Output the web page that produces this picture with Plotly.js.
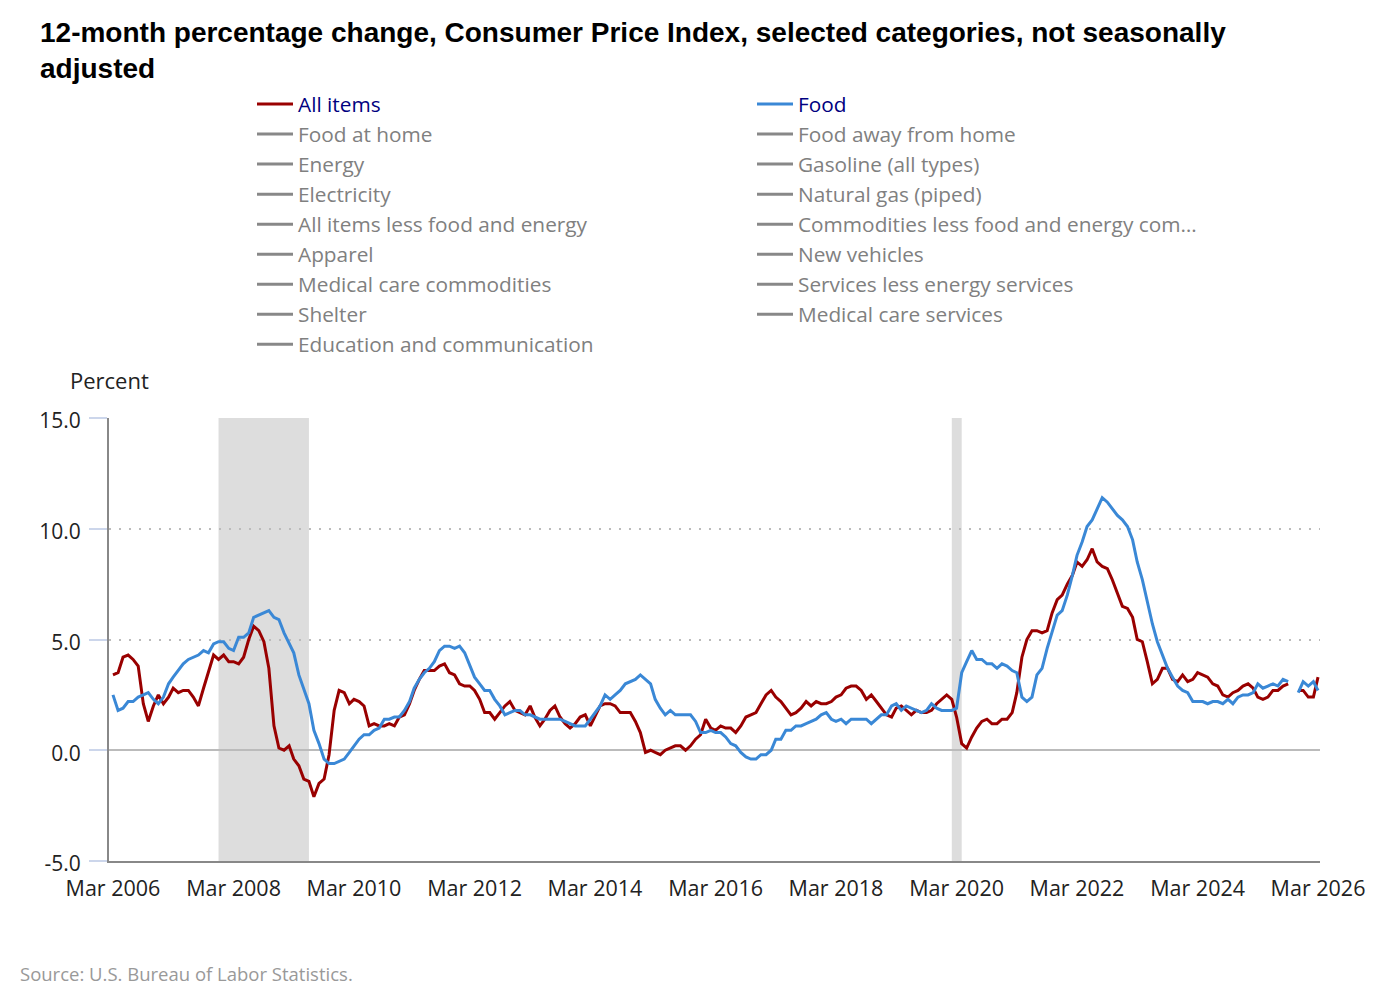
<!DOCTYPE html>
<html>
<head>
<meta charset="utf-8">
<script src="https://cdn.plot.ly/plotly-3.0.1.min.js"></script>
<style>
  html, body { margin: 0; padding: 0; background: #fff; }
  #chart { width: 1400px; height: 999px; }
</style>
</head>
<body>
<div id="chart"></div>
<script>
// Monthly observations, Mar 2006 through Mar 2026 (Oct 2025 not published)
const startYear = 2006;
const startMonth = 3; // March

const allItems = [
  /*2006*/ 3.4, 3.5, 4.2, 4.3, 4.1, 3.8, 2.1, 1.3, 2.0, 2.5,
  /*2007*/ 2.1, 2.4, 2.8, 2.6, 2.7, 2.7, 2.4, 2.0, 2.8, 3.5, 4.3, 4.1,
  /*2008*/ 4.3, 4.0, 4.0, 3.9, 4.2, 5.0, 5.6, 5.4, 4.9, 3.7, 1.1, 0.1,
  /*2009*/ 0.0, 0.2, -0.4, -0.7, -1.3, -1.4, -2.1, -1.5, -1.3, -0.2, 1.8, 2.7,
  /*2010*/ 2.6, 2.1, 2.3, 2.2, 2.0, 1.1, 1.2, 1.1, 1.1, 1.2, 1.1, 1.5,
  /*2011*/ 1.6, 2.1, 2.7, 3.2, 3.6, 3.6, 3.6, 3.8, 3.9, 3.5, 3.4, 3.0,
  /*2012*/ 2.9, 2.9, 2.7, 2.3, 1.7, 1.7, 1.4, 1.7, 2.0, 2.2, 1.8, 1.7,
  /*2013*/ 1.6, 2.0, 1.5, 1.1, 1.4, 1.8, 2.0, 1.5, 1.2, 1.0, 1.2, 1.5,
  /*2014*/ 1.6, 1.1, 1.5, 2.0, 2.1, 2.1, 2.0, 1.7, 1.7, 1.7, 1.3, 0.8,
  /*2015*/ -0.1, 0.0, -0.1, -0.2, 0.0, 0.1, 0.2, 0.2, 0.0, 0.2, 0.5, 0.7,
  /*2016*/ 1.4, 1.0, 0.9, 1.1, 1.0, 1.0, 0.8, 1.1, 1.5, 1.6, 1.7, 2.1,
  /*2017*/ 2.5, 2.7, 2.4, 2.2, 1.9, 1.6, 1.7, 1.9, 2.2, 2.0, 2.2, 2.1,
  /*2018*/ 2.1, 2.2, 2.4, 2.5, 2.8, 2.9, 2.9, 2.7, 2.3, 2.5, 2.2, 1.9,
  /*2019*/ 1.6, 1.5, 1.9, 2.0, 1.8, 1.6, 1.8, 1.7, 1.7, 1.8, 2.1, 2.3,
  /*2020*/ 2.5, 2.3, 1.5, 0.3, 0.1, 0.6, 1.0, 1.3, 1.4, 1.2, 1.2, 1.4,
  /*2021*/ 1.4, 1.7, 2.6, 4.2, 5.0, 5.4, 5.4, 5.3, 5.4, 6.2, 6.8, 7.0,
  /*2022*/ 7.5, 7.9, 8.5, 8.3, 8.6, 9.1, 8.5, 8.3, 8.2, 7.7, 7.1, 6.5,
  /*2023*/ 6.4, 6.0, 5.0, 4.9, 4.0, 3.0, 3.2, 3.7, 3.7, 3.2, 3.1, 3.4,
  /*2024*/ 3.1, 3.2, 3.5, 3.4, 3.3, 3.0, 2.9, 2.5, 2.4, 2.6, 2.7, 2.9,
  /*2025*/ 3.0, 2.8, 2.4, 2.3, 2.4, 2.7, 2.7, 2.9, 3.0, null, 2.7, 2.7,
  /*2026*/ 2.4, 2.4, 3.3
];

const food = [
  /*2006*/ 2.5, 1.8, 1.9, 2.2, 2.2, 2.4, 2.5, 2.6, 2.3, 2.1,
  /*2007*/ 2.4, 3.0, 3.3, 3.6, 3.9, 4.1, 4.2, 4.3, 4.5, 4.4, 4.8, 4.9,
  /*2008*/ 4.9, 4.6, 4.5, 5.1, 5.1, 5.3, 6.0, 6.1, 6.2, 6.3, 6.0, 5.9,
  /*2009*/ 5.3, 4.8, 4.4, 3.4, 2.8, 2.1, 0.9, 0.3, -0.4, -0.6, -0.6, -0.5,
  /*2010*/ -0.4, -0.1, 0.2, 0.5, 0.7, 0.7, 0.9, 1.0, 1.4, 1.4, 1.5, 1.5,
  /*2011*/ 1.8, 2.2, 2.8, 3.2, 3.5, 3.7, 4.0, 4.5, 4.7, 4.7, 4.6, 4.7,
  /*2012*/ 4.4, 3.8, 3.3, 3.0, 2.7, 2.7, 2.3, 2.0, 1.6, 1.7, 1.8, 1.8,
  /*2013*/ 1.6, 1.6, 1.5, 1.4, 1.4, 1.4, 1.4, 1.4, 1.3, 1.2, 1.1, 1.1,
  /*2014*/ 1.1, 1.4, 1.7, 2.0, 2.5, 2.3, 2.5, 2.7, 3.0, 3.1, 3.2, 3.4,
  /*2015*/ 3.2, 3.0, 2.3, 1.9, 1.6, 1.8, 1.6, 1.6, 1.6, 1.6, 1.3, 0.8,
  /*2016*/ 0.8, 0.9, 0.8, 0.8, 0.6, 0.3, 0.2, -0.1, -0.3, -0.4, -0.4, -0.2,
  /*2017*/ -0.2, 0.0, 0.5, 0.5, 0.9, 0.9, 1.1, 1.1, 1.2, 1.3, 1.4, 1.6,
  /*2018*/ 1.7, 1.4, 1.3, 1.4, 1.2, 1.4, 1.4, 1.4, 1.4, 1.2, 1.4, 1.6,
  /*2019*/ 1.6, 2.0, 2.1, 1.8, 2.0, 1.9, 1.8, 1.7, 1.8, 2.1, 1.9, 1.8,
  /*2020*/ 1.8, 1.8, 1.9, 3.5, 4.0, 4.5, 4.1, 4.1, 3.9, 3.9, 3.7, 3.9,
  /*2021*/ 3.8, 3.6, 3.5, 2.4, 2.2, 2.4, 3.4, 3.7, 4.6, 5.3, 6.1, 6.3,
  /*2022*/ 7.0, 7.9, 8.8, 9.4, 10.1, 10.4, 10.9, 11.4, 11.2, 10.9, 10.6, 10.4,
  /*2023*/ 10.1, 9.5, 8.5, 7.7, 6.7, 5.7, 4.9, 4.3, 3.7, 3.3, 2.9, 2.7,
  /*2024*/ 2.6, 2.2, 2.2, 2.2, 2.1, 2.2, 2.2, 2.1, 2.3, 2.1, 2.4, 2.5,
  /*2025*/ 2.5, 2.6, 3.0, 2.8, 2.9, 3.0, 2.9, 3.2, 3.1, null, 2.6, 3.1,
  /*2026*/ 2.9, 3.1, 2.7
];

// Other categories listed in the legend (not plotted), row-wise order of the two columns
const otherCategories = [
  "Food at home", "Food away from home",
  "Energy", "Gasoline (all types)",
  "Electricity", "Natural gas (piped)",
  "All items less food and energy", "Commodities less food and energy com\u2026",
  "Apparel", "New vehicles",
  "Medical care commodities", "Services less energy services",
  "Shelter", "Medical care services",
  "Education and communication"
];

// Recession periods
const recessions = [
  ["2007-12-01", "2009-06-01"],
  ["2020-02-01", "2020-04-01"]
];

const yTickVals = [-5, 0, 5, 10, 15];
const yTickText = ["-5.0", "0.0", "5.0", "10.0", "15.0"];
const tickLabelsStart = "2006-03-01";

function buildDates(n) {
  const out = [];
  for (let i = 0; i < n; i++) {
    const t = (startMonth - 1) + i;
    const y = startYear + Math.floor(t / 12);
    const m = (t % 12) + 1;
    out.push(y + "-" + String(m).padStart(2, "0") + "-01");
  }
  return out;
}
const dates = buildDates(allItems.length);

const traces = [
  { x: dates, y: allItems, name: "All items", type: "scatter", mode: "lines",
    line: { color: "#990000", width: 3 }, connectgaps: false },
  { x: dates, y: food, name: "Food", type: "scatter", mode: "lines",
    line: { color: "#3a88d6", width: 3 }, connectgaps: false }
];
otherCategories.forEach(function (name) {
  // series not selected: a single empty point keeps the legend entry
  traces.push({ x: [dates[0]], y: [null], type: "scatter", mode: "lines",
    name: '<span style="color:#808080">' + name + '</span>',
    line: { color: "#888888", width: 3 }, hoverinfo: "skip" });
});

const shapes = recessions.map(function (r) {
  return { type: "rect", xref: "x", yref: "paper", x0: r[0], x1: r[1], y0: 0, y1: 1,
    fillcolor: "#dddddd", line: { width: 0 }, layer: "below" };
});

const layout = {
  width: 1400, height: 999,
  margin: { l: 109, r: 80, t: 418, b: 138 },
  paper_bgcolor: "#ffffff", plot_bgcolor: "#ffffff",
  font: { family: "Open Sans, Noto Sans, sans-serif", color: "#222222" },
  title: {
    text: "12-month percentage change, Consumer Price Index, selected categories, not seasonally<br>adjusted",
    font: { family: "Liberation Sans, Arial, sans-serif", size: 28, color: "#000000", weight: "bold" },
    xref: "container", x: 40 / 1400, xanchor: "left",
    yref: "container", y: 1 - 42 / 999, yanchor: "top"
  },
  showlegend: true,
  legend: {
    orientation: "h", x: (252 - 109) / 1211, xanchor: "left",
    y: 1 + (418 - 84) / 443, yanchor: "top",
    itemwidth: 36,
    entrywidth: 449, entrywidthmode: "pixels",
    font: { size: 20.8, color: "#000080", family: "Open Sans, Noto Sans, sans-serif" },
    bgcolor: "rgba(0,0,0,0)", traceorder: "normal"
  },
  xaxis: {
    type: "date",
    range: ["2006-02-05", "2026-03-13"],
    tick0: tickLabelsStart, dtick: "M24", tickformat: "%b %Y",
    ticks: "", showgrid: false, zeroline: false,
    showline: true, linecolor: "#888888", linewidth: 2,
    tickfont: { size: 21.5, color: "#222222" },
    ticklabelstandoff: 7
  },
  yaxis: {
    range: [-5, 15], tickmode: "array", tickvals: yTickVals, ticktext: yTickText,
    showgrid: true, gridcolor: "#bbbbbb", gridwidth: 2, griddash: "2px,8px",
    zeroline: true, zerolinecolor: "#bbbbbb", zerolinewidth: 2,
    showline: true, linecolor: "#888888", linewidth: 2,
    ticks: "outside", ticklen: 18, tickcolor: "#ccd6eb", tickwidth: 2,
    tickfont: { size: 21, color: "#222222" },
    ticklabelstandoff: 4, ticklabelshift: 3
  },
  shapes: shapes,
  annotations: [
    { text: "Percent", xref: "paper", yref: "paper",
      x: (68 - 109) / 1211, xanchor: "left", y: 1 + (418 - 380) / 443, yanchor: "middle",
      showarrow: false, font: { size: 22, color: "#222222" } },
    { text: "Source: U.S. Bureau of Labor Statistics.", xref: "paper", yref: "paper",
      x: (18 - 109) / 1211, xanchor: "left", y: (861 - 973) / 443, yanchor: "middle",
      showarrow: false, font: { size: 18.5, color: "#999999" } }
  ]
};

Plotly.newPlot("chart", traces, layout, { displayModeBar: false, responsive: false });
</script>
</body>
</html>
